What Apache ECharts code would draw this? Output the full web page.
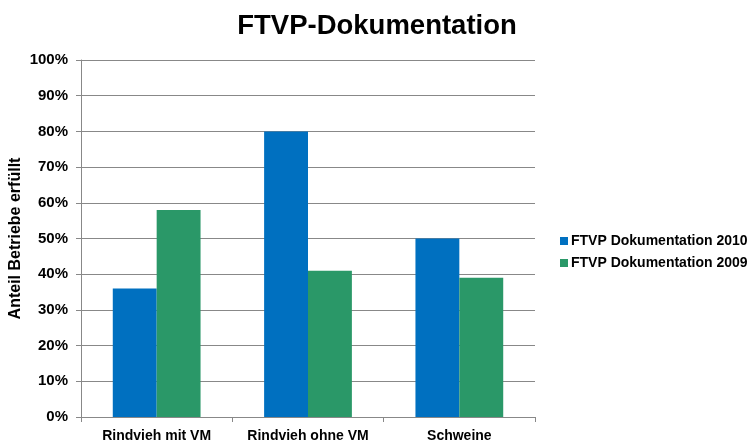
<!DOCTYPE html>
<html>
<head>
<meta charset="utf-8">
<script src="https://cdn.jsdelivr.net/npm/echarts@6/dist/echarts.min.js"></script>
<style>html,body{margin:0;padding:0;background:#fff}#c{width:755px;height:442px}</style>
</head>
<body>
<div id="c"></div>
<script>
var categories = ['Rindvieh mit VM', 'Rindvieh ohne VM', 'Schweine'];
var series2010 = [36, 80, 50];
var series2009 = [58, 41, 39];
var yTicks = [0, 10, 20, 30, 40, 50, 60, 70, 80, 90, 100];

var chart = echarts.init(document.getElementById('c'));
var font = 'Liberation Sans, Arial, sans-serif';
chart.setOption({
  animation: false,
  title: {
    text: 'FTVP-Dokumentation',
    left: 372, top: 7, textAlign: 'center',
    textStyle: {fontFamily: font, fontSize: 27.5, fontWeight: 'bold', color: '#000'}
  },
  legend: {
    orient: 'vertical', left: 555, top: 229,
    itemWidth: 8, itemHeight: 8, itemGap: 8,
    icon: 'rect',
    textStyle: {fontFamily: font, fontSize: 14, fontWeight: 'bold', color: '#000', padding: [0,0,0,-2]},
    data: ['FTVP Dokumentation 2010', 'FTVP Dokumentation 2009']
  },
  grid: {left: 81, right: 220, top: 60, bottom: 25, containLabel: false, outerBoundsMode: 'none'},
  xAxis: {
    type: 'category', data: categories,
    axisLine: {lineStyle: {color: '#888', width: 1}},
    axisTick: {show: true, alignWithLabel: false, length: 5, lineStyle: {color: '#888'}},
    axisLabel: {interval: 0, fontFamily: font, fontSize: 14, fontWeight: 'bold', color: '#000', margin: 12}
  },
  yAxis: {
    type: 'value', min: 0, max: 100, interval: 10,
    name: 'Anteil Betriebe erfüllt', nameLocation: 'middle', nameGap: 57, nameRotate: 90,
    nameMoveOverlap: false,
    nameTextStyle: {fontFamily: font, fontSize: 16, fontWeight: 'bold', color: '#000'},
    axisLine: {show: true, lineStyle: {color: '#888', width: 1}},
    axisTick: {show: true, length: 5, lineStyle: {color: '#888'}},
    splitLine: {lineStyle: {color: '#888', width: 1}},
    axisLabel: {fontFamily: font, fontSize: 15, fontWeight: 'bold', color: '#000', margin: 13,
      formatter: function (v) { return yTicks.indexOf(v) >= 0 ? v + '%' : ''; }}
  },
  series: [
    {name: 'FTVP Dokumentation 2010', type: 'bar', data: series2010, barGap: '0%', barCategoryGap: '42%',
     itemStyle: {color: '#0070C0'}},
    {name: 'FTVP Dokumentation 2009', type: 'bar', data: series2009, barGap: '0%', barCategoryGap: '42%',
     itemStyle: {color: '#2A9868'}}
  ]
});
</script>
</body>
</html>
